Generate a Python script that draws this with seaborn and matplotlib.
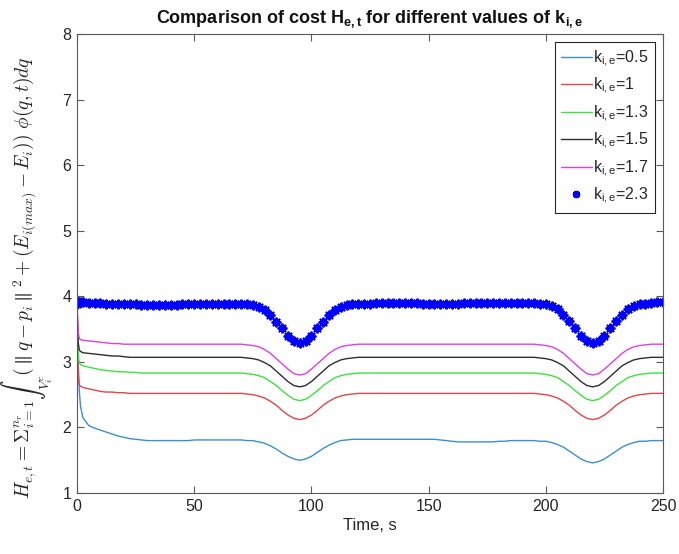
import numpy as np
import pandas as pd
import matplotlib
matplotlib.use("Agg")
import matplotlib.pyplot as plt
import seaborn as sns

# ---- data ----
time = np.concatenate([[0, 0.5, 1, 1.5], np.arange(2.5, 250.01, 2.5)])

k_labels = ["0.5", "1", "1.3", "1.5", "1.7", "2.3"]

h_k05 = [3.90, 3.00, 2.55, 2.32,
         2.15, 2.03, 1.99, 1.96, 1.93, 1.90, 1.87, 1.85, 1.83, 1.82, 1.81,
         1.80, 1.80, 1.80, 1.80, 1.80, 1.80, 1.80, 1.80,
         1.81, 1.81, 1.81, 1.81, 1.81, 1.81, 1.81, 1.81, 1.81,
         1.80, 1.80, 1.78, 1.76, 1.72, 1.67, 1.61, 1.56, 1.52, 1.50,
         1.52, 1.56, 1.62, 1.68, 1.73, 1.77, 1.80, 1.81, 1.82,
         1.82, 1.82, 1.82, 1.82, 1.82, 1.82, 1.82, 1.82, 1.82, 1.82, 1.82, 1.82, 1.82, 1.82,
         1.81, 1.80, 1.79, 1.78, 1.78, 1.78, 1.78, 1.78, 1.78, 1.78, 1.79, 1.79,
         1.80, 1.80, 1.80, 1.80, 1.80,
         1.79, 1.79, 1.77, 1.74, 1.70, 1.64, 1.58, 1.52, 1.48, 1.46,
         1.48, 1.52, 1.58, 1.64, 1.70, 1.74, 1.77, 1.79, 1.79,
         1.80, 1.80, 1.80]

h_k1 = [3.90, 2.80, 2.65, 2.63,
        2.61, 2.59, 2.57, 2.55, 2.54, 2.54, 2.53, 2.53, 2.52,
        2.52, 2.52, 2.52, 2.52, 2.52, 2.52, 2.52, 2.52, 2.52, 2.52,
        2.52, 2.52, 2.52, 2.52, 2.52, 2.52, 2.52, 2.52, 2.52,
        2.51, 2.50, 2.48, 2.45, 2.40, 2.34, 2.26, 2.19, 2.14, 2.12,
        2.14, 2.19, 2.26, 2.34, 2.40, 2.45, 2.48, 2.50, 2.51,
        2.52, 2.52, 2.52, 2.52, 2.52, 2.52, 2.52, 2.52, 2.52, 2.52,
        2.52, 2.52, 2.52, 2.52, 2.52, 2.52, 2.52, 2.52, 2.52, 2.52,
        2.52, 2.52, 2.52, 2.52, 2.52, 2.52, 2.52, 2.52, 2.52, 2.52, 2.52,
        2.51, 2.50, 2.48, 2.45, 2.40, 2.34, 2.26, 2.19, 2.14, 2.12,
        2.14, 2.19, 2.26, 2.34, 2.40, 2.45, 2.48, 2.50, 2.51,
        2.52, 2.52, 2.52]

h_k13 = [3.90, 3.10, 2.98, 2.96,
         2.94, 2.92, 2.90, 2.88, 2.87, 2.86, 2.85, 2.85, 2.84, 2.84,
         2.83, 2.83, 2.83, 2.83, 2.83, 2.83, 2.83, 2.83, 2.83,
         2.83, 2.83, 2.83, 2.83, 2.83, 2.83, 2.83, 2.83, 2.83,
         2.82, 2.81, 2.79, 2.76, 2.70, 2.64, 2.56, 2.49, 2.43, 2.41,
         2.43, 2.49, 2.56, 2.64, 2.70, 2.76, 2.79, 2.81, 2.82,
         2.83, 2.83, 2.83, 2.83, 2.83, 2.83, 2.83, 2.83, 2.83, 2.83,
         2.83, 2.83, 2.83, 2.83, 2.83, 2.83, 2.83, 2.83, 2.83, 2.83,
         2.83, 2.83, 2.83, 2.83, 2.83, 2.83, 2.83, 2.83, 2.83, 2.83, 2.83,
         2.82, 2.81, 2.79, 2.76, 2.70, 2.64, 2.56, 2.49, 2.43, 2.41,
         2.43, 2.49, 2.56, 2.64, 2.70, 2.76, 2.79, 2.81, 2.82,
         2.83, 2.83, 2.83]

h_k15 = [3.90, 3.30, 3.18, 3.16,
         3.14, 3.13, 3.12, 3.11, 3.10, 3.09, 3.09, 3.08,
         3.07, 3.07, 3.07, 3.07, 3.07, 3.07, 3.07, 3.07, 3.07, 3.07,
         3.07, 3.07, 3.07, 3.07, 3.07, 3.07, 3.07, 3.07, 3.07, 3.07,
         3.06, 3.05, 3.03, 2.99, 2.94, 2.86, 2.78, 2.70, 2.64, 2.62,
         2.64, 2.70, 2.78, 2.86, 2.94, 2.99, 3.03, 3.05, 3.06,
         3.07, 3.07, 3.07, 3.07, 3.07, 3.07, 3.07, 3.07, 3.07, 3.07,
         3.07, 3.07, 3.07, 3.07, 3.07, 3.07, 3.07, 3.07, 3.07, 3.07,
         3.07, 3.07, 3.07, 3.07, 3.07, 3.07, 3.07, 3.07, 3.07, 3.07, 3.07,
         3.06, 3.05, 3.03, 2.99, 2.94, 2.86, 2.78, 2.70, 2.64, 2.62,
         2.64, 2.70, 2.78, 2.86, 2.94, 2.99, 3.03, 3.05, 3.06,
         3.07, 3.07, 3.07]

h_k17 = [3.90, 3.45, 3.36, 3.34,
         3.33, 3.32, 3.31, 3.30, 3.29, 3.28, 3.28, 3.27,
         3.27, 3.27, 3.27, 3.27, 3.27, 3.27, 3.27, 3.27, 3.27, 3.27,
         3.27, 3.27, 3.27, 3.27, 3.27, 3.27, 3.27, 3.27, 3.27, 3.27,
         3.26, 3.25, 3.23, 3.19, 3.13, 3.05, 2.97, 2.89, 2.82, 2.80,
         2.82, 2.89, 2.97, 3.05, 3.13, 3.19, 3.23, 3.25, 3.26,
         3.27, 3.27, 3.27, 3.27, 3.27, 3.27, 3.27, 3.27, 3.27, 3.27,
         3.27, 3.27, 3.27, 3.27, 3.27, 3.27, 3.27, 3.27, 3.27, 3.27,
         3.27, 3.27, 3.27, 3.27, 3.27, 3.27, 3.27, 3.27, 3.27, 3.27, 3.27,
         3.26, 3.25, 3.23, 3.19, 3.13, 3.05, 2.97, 2.89, 2.82, 2.80,
         2.82, 2.89, 2.97, 3.05, 3.13, 3.19, 3.23, 3.25, 3.26,
         3.27, 3.27, 3.27]

h_k23 = [3.88, 3.92, 3.92, 3.91,
         3.91, 3.90, 3.90, 3.90, 3.89, 3.89, 3.89, 3.88, 3.88, 3.88,
         3.87, 3.87, 3.87, 3.87, 3.87, 3.87, 3.87, 3.88,
         3.89, 3.89, 3.89, 3.89, 3.89, 3.89, 3.89, 3.89, 3.89, 3.89,
         3.88, 3.87, 3.84, 3.79, 3.71, 3.61, 3.51, 3.40, 3.32, 3.29,
         3.32, 3.40, 3.51, 3.61, 3.71, 3.79, 3.84, 3.87, 3.88,
         3.89, 3.89, 3.89, 3.90, 3.90, 3.90, 3.90, 3.90, 3.90, 3.90, 3.90,
         3.89, 3.89, 3.89, 3.89, 3.89, 3.89, 3.89,
         3.90, 3.90, 3.90, 3.90, 3.90, 3.90, 3.90, 3.90, 3.90, 3.90, 3.90, 3.90, 3.90,
         3.89, 3.88, 3.85, 3.80, 3.72, 3.62, 3.51, 3.40, 3.32, 3.29,
         3.32, 3.40, 3.51, 3.62, 3.72, 3.80, 3.85, 3.88, 3.89,
         3.90, 3.91, 3.91]

x_ticks = [0, 50, 100, 150, 200, 250]
y_ticks = [1, 2, 3, 4, 5, 6, 7, 8]

line_series = [h_k05, h_k1, h_k13, h_k15, h_k17]
line_colors = ["#3D8FCB", "#E0454A", "#3FE03F", "#2E2E2E", "#E040E0"]

# ---- style ----
sns.set_theme(style="white")
plt.rcParams["font.family"] = ["Liberation Sans", "DejaVu Sans"]
plt.rcParams["axes.edgecolor"] = "#5a5a5a"
plt.rcParams["axes.linewidth"] = 0.8

fig = plt.figure(figsize=(6.79, 5.54), dpi=100)
ax = fig.add_axes([0.1134, 0.110, 0.8631, 0.8286])

for vals, lab, col in zip(line_series, k_labels[:5], line_colors):
    df = pd.DataFrame({"t": time, "h": vals})
    sns.lineplot(data=df, x="t", y="h", ax=ax, color=col, linewidth=1.0,
                 label=r"k$_{\mathregular{i,e}}$=" + lab)

df_s = pd.DataFrame({"t": time, "h": h_k23})
sns.lineplot(data=df_s, x="t", y="h", ax=ax, color="#0000FF", linestyle="none",
             marker=(8, 2, 0), markersize=7, markeredgewidth=1.4,
             markeredgecolor="#0000FF",
             label=r"k$_{\mathregular{i,e}}$=" + k_labels[5])

ax.set_xlim(0, 250)
ax.set_ylim(1, 8)
ax.set_xticks(x_ticks)
ax.set_yticks(y_ticks)
ax.tick_params(axis="both", which="both", direction="in", length=5, width=0.8,
               colors="#5a5a5a", labelcolor="#262626", labelsize=11.5,
               top=True, right=True, bottom=True, left=True, pad=4)

ax.set_xlabel("Time, s", fontsize=12, color="#262626", labelpad=3)
ax.set_ylabel(r"$H_{e,t} = \Sigma_{i=1}^{n_r} {\int}_{V_i^c} (\parallel q - p_i \parallel^2 + (E_{i(max)} - E_i))\ \phi(q,t)dq$",
              fontsize=14, color="#262626", math_fontfamily="cm")
ax.yaxis.set_label_coords(-0.038, 0.47)

ax.set_title(r"Comparison of cost H$_{\mathregular{e,t}}$ for different values of k$_{\mathregular{i,e}}$",
             fontsize=13, fontweight="bold", color="#111111", pad=8)

leg = ax.legend(loc="upper right", fontsize=11.5, frameon=True, fancybox=False,
                edgecolor="#262626", framealpha=1, handlelength=1.9,
                handletextpad=0.1, labelspacing=0.45, borderpad=0.4,
                borderaxespad=0.5, markerscale=0.75)
leg.get_frame().set_linewidth(0.8)

fig.savefig("out.png", dpi=100)
